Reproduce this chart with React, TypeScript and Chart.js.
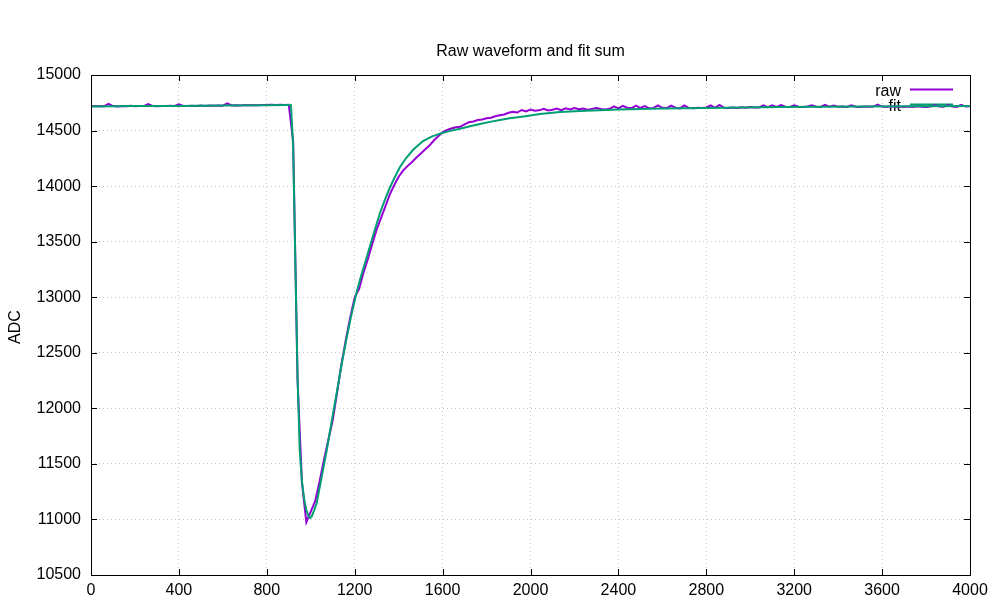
import { useEffect, useRef } from "react";
import { Chart, registerables } from "chart.js";

Chart.register(...registerables);

const TITLE = "Raw waveform and fit sum";
const Y_LABEL = "ADC";
const RAW_LABEL = "raw";
const FIT_LABEL = "fit";
const RAW_COLOR = "#9400d3";
const FIT_COLOR = "#009e73";

const X_MIN = 0;
const X_MAX = 4000;
const X_STEP = 400;
const Y_MIN = 10500;
const Y_MAX = 15000;
const Y_STEP = 500;

// raw waveform sampled every RAW_STEP units starting at 0
const RAW_STEP = 20;
const RAW_VALUES = [
  14720, 14718, 14722, 14719, 14740, 14720, 14717, 14721, 14719, 14723,
  14718, 14721, 14720, 14738, 14721, 14719, 14722, 14720, 14723, 14721,
  14736, 14722, 14720, 14724, 14721, 14725, 14722, 14726, 14723, 14725,
  14724, 14744, 14726, 14728, 14725, 14729, 14727, 14730, 14728, 14731,
  14729, 14732, 14730, 14733, 14731, 14732, 14400, 12250, 11330, 10975,
  11070, 11165, 11340, 11535, 11715, 11895, 12145, 12400, 12620, 12820,
  13000, 13075, 13220, 13345, 13480, 13610, 13715, 13820, 13925, 14010,
  14085, 14140, 14180, 14215, 14255, 14292, 14330, 14365, 14410, 14448,
  14485, 14505, 14518, 14530, 14535, 14555, 14575, 14582, 14595, 14600,
  14610, 14615, 14628, 14638, 14645, 14660, 14668, 14662, 14685, 14672,
  14690, 14678, 14682, 14695, 14680, 14688, 14698, 14684, 14700, 14690,
  14703, 14692, 14698, 14688, 14695, 14702, 14694, 14690, 14696, 14718,
  14700, 14722, 14705, 14702, 14725, 14703, 14720, 14700, 14704, 14726,
  14705, 14702, 14724, 14706, 14700, 14726, 14704, 14701, 14706, 14703,
  14708, 14726, 14705, 14730, 14706, 14703, 14708, 14704, 14710, 14706,
  14712, 14708, 14708, 14726, 14710, 14728, 14712, 14729, 14714, 14712,
  14727, 14714, 14711, 14716, 14728, 14714, 14712, 14731, 14715, 14725,
  14714, 14716, 14712, 14727, 14715, 14713, 14717, 14714, 14716, 14733,
  14716, 14713, 14718, 14714, 14717, 14712, 14716, 14713, 14718, 14715,
  14712, 14717, 14729, 14716, 14714, 14730, 14716, 14713, 14732, 14716,
  14718,
];

const FIT_X = [
  0, 200, 400, 600, 800, 900, 910, 920, 930, 940,
  950, 960, 970, 980, 990, 997, 1005, 1015, 1027, 1050,
  1073, 1095, 1118, 1140, 1164, 1186, 1209, 1232, 1255, 1285,
  1315, 1340, 1361, 1385, 1406, 1435, 1465, 1490, 1511, 1550,
  1588, 1630, 1679, 1725, 1770, 1815, 1861, 1905, 1952, 2000,
  2043, 2090, 2134, 2180, 2225, 2400, 2600, 2800, 3135, 3500,
  4000,
];
const FIT_Y = [
  14717, 14720, 14722, 14725, 14728, 14730, 14729, 14350, 13300, 12280,
  11620, 11340, 11185, 11085, 11028, 11013, 11030, 11080, 11148, 11385,
  11625, 11880, 12138, 12390, 12642, 12850, 13047, 13210, 13362, 13565,
  13758, 13890, 13992, 14090, 14172, 14255, 14325, 14370, 14406, 14445,
  14472, 14495, 14517, 14538, 14559, 14578, 14595, 14610, 14623, 14636,
  14648, 14658, 14667, 14672, 14677, 14690, 14698, 14704, 14712, 14716,
  14720,
];

const FONT_FAMILY = '"Liberation Sans", Arial, Helvetica, sans-serif';

const decorPlugin = {
  id: "decor",
  beforeDatasetsDraw(chart: any) {
    const { ctx, chartArea } = chart;
    const { right, top } = chartArea;
    ctx.save();
    ctx.font = `16px ${FONT_FAMILY}`;
    ctx.textAlign = "right";
    ctx.textBaseline = "alphabetic";
    chart.data.datasets.forEach((ds: any, i: number) => {
      const yLine = top + 14.5 + i * 15;
      ctx.fillStyle = "#000";
      ctx.fillText(ds.label, right - 69, yLine + 6.5);
      ctx.strokeStyle = ds.borderColor;
      ctx.lineWidth = 2;
      ctx.beginPath();
      ctx.moveTo(right - 60, yLine);
      ctx.lineTo(right - 17, yLine);
      ctx.stroke();
    });
    ctx.restore();
  },
  afterDraw(chart: any) {
    const { ctx, chartArea, scales } = chart;
    const { left, right, top, bottom } = chartArea;
    ctx.save();
    ctx.strokeStyle = "#000";
    ctx.lineWidth = 1;
    const tl = 6;
    ctx.beginPath();
    scales.x.ticks.forEach((t: any) => {
      const px = Math.round(scales.x.getPixelForValue(t.value)) + 0.5;
      ctx.moveTo(px, bottom);
      ctx.lineTo(px, bottom - tl);
      ctx.moveTo(px, top);
      ctx.lineTo(px, top + tl);
    });
    scales.y.ticks.forEach((t: any) => {
      const py = Math.round(scales.y.getPixelForValue(t.value)) + 0.5;
      ctx.moveTo(left, py);
      ctx.lineTo(left + tl, py);
      ctx.moveTo(right, py);
      ctx.lineTo(right - tl, py);
    });
    ctx.stroke();
    ctx.strokeRect(
      Math.round(left) + 0.5,
      Math.round(top) + 0.5,
      Math.round(right - left),
      Math.round(bottom - top)
    );
    ctx.fillStyle = "#000";
    ctx.font = `16px ${FONT_FAMILY}`;
    ctx.textAlign = "center";
    ctx.textBaseline = "alphabetic";
    ctx.fillText(TITLE, (left + right) / 2, 56);
    ctx.translate(16, (top + bottom) / 2 + 2);
    ctx.rotate(-Math.PI / 2);
    ctx.textBaseline = "middle";
    ctx.fillText(Y_LABEL, 0, 0);
    ctx.restore();
  },
};

export default function App() {
  const canvasRef = useRef<HTMLCanvasElement | null>(null);

  useEffect(() => {
    const canvas = canvasRef.current;
    if (!canvas) return;
    const rawData = RAW_VALUES.map((v, i) => ({ x: i * RAW_STEP, y: v }));
    const fitData = FIT_X.map((x, i) => ({ x, y: FIT_Y[i] }));
    const tickFont = { family: FONT_FAMILY, size: 16 };
    const chart = new Chart(canvas, {
      type: "line",
      data: {
        datasets: [
          {
            label: RAW_LABEL,
            data: rawData,
            borderColor: RAW_COLOR,
            backgroundColor: RAW_COLOR,
            borderWidth: 2,
            pointRadius: 0,
            tension: 0,
            order: 1,
          },
          {
            label: FIT_LABEL,
            data: fitData,
            borderColor: FIT_COLOR,
            backgroundColor: FIT_COLOR,
            borderWidth: 2,
            pointRadius: 0,
            tension: 0,
            order: 0,
          },
        ],
      },
      options: {
        animation: false,
        responsive: false,
        maintainAspectRatio: false,
        layout: { padding: { top: 75, right: 18, left: 0, bottom: 0 } },
        plugins: {
          legend: { display: false },
          title: { display: false },
          tooltip: { enabled: false },
        },
        scales: {
          x: {
            type: "linear",
            min: X_MIN,
            max: X_MAX,
            afterFit: (s: any) => {
              s.height = 20;
              s.paddingLeft = 0;
              s.paddingRight = 0;
            },
            ticks: {
              stepSize: X_STEP,
              padding: 6,
              color: "#000",
              font: tickFont,
              maxRotation: 0,
              autoSkip: false,
              callback: (v: any) => String(v),
            },
            grid: { color: "#c4c4c4", drawTicks: false, lineWidth: 1 },
            border: { display: false, dash: [1, 3] },
          },
          y: {
            type: "linear",
            min: Y_MIN,
            max: Y_MAX,
            afterFit: (s: any) => {
              s.width = 91;
              s.paddingTop = 0;
              s.paddingBottom = 0;
            },
            ticks: {
              stepSize: Y_STEP,
              padding: 10,
              color: "#000",
              font: tickFont,
              autoSkip: false,
              callback: (v: any) => String(v),
            },
            grid: { color: "#c4c4c4", drawTicks: false, lineWidth: 1 },
            border: { display: false, dash: [1, 3] },
          },
        },
      },
      plugins: [decorPlugin],
    } as any);
    return () => chart.destroy();
  }, []);

  return (
    <div
      style={{
        position: "fixed",
        left: 0,
        top: 0,
        width: 988,
        height: 595,
        background: "#fff",
        overflow: "hidden",
      }}
    >
      <canvas ref={canvasRef} width={988} height={595} />
    </div>
  );
}
